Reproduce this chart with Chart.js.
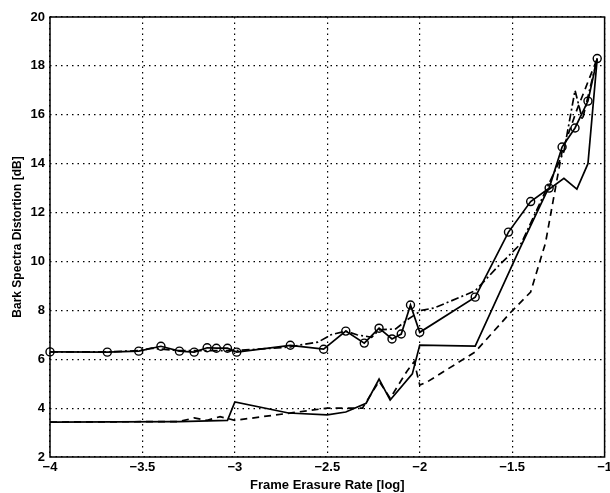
<!DOCTYPE html>
<html>
<head>
<meta charset="utf-8">
<script src="https://cdn.jsdelivr.net/npm/chart.js@4"></script>
<style>
  html, body { margin: 0; padding: 0; background: #fff; }
  #wrap { width: 610px; height: 493px; }
</style>
</head>
<body>
<div id="wrap"><canvas id="chart"></canvas></div>
<script>
// circles + solid line
const circX = [-4, -3.69, -3.52, -3.40, -3.30, -3.22, -3.15, -3.10, -3.04, -2.99, -2.70, -2.52,
  -2.40, -2.30, -2.22, -2.15, -2.10, -2.05, -2.00, -1.70, -1.52, -1.40, -1.30, -1.23, -1.16, -1.09, -1.04];
const circY = [6.30, 6.29, 6.33, 6.53, 6.33, 6.29, 6.47, 6.45, 6.45, 6.29, 6.57, 6.41,
  7.15, 6.66, 7.27, 6.83, 7.03, 8.22, 7.10, 8.54, 11.2, 12.45, 13.0, 14.68, 15.46, 16.56, 18.3];

// dash-dot
const dashDotX = [-4, -3.7, -3.52, -3.45, -3.3, -3.0, -2.7, -2.65, -2.55, -2.48, -2.40, -2.34, -2.26,
  -2.22, -2.13, -2.07, -1.99, -1.92, -1.70, -1.58, -1.45, -1.30, -1.22, -1.16, -1.12, -1.04];
const dashDotY = [6.3, 6.3, 6.35, 6.45, 6.35, 6.35, 6.5, 6.58, 6.7, 7.0, 7.15, 7.0, 6.9,
  7.2, 7.24, 7.6, 8.0, 8.1, 8.8, 9.77, 10.75, 13.2, 14.5, 17.0, 15.8, 18.3];

// plain solid
const solidX = [-4, -3.3, -3.04, -3.0, -2.71, -2.50, -2.40, -2.29, -2.22, -2.16, -2.04, -2.00,
  -1.70, -1.46, -1.31, -1.22, -1.15, -1.09, -1.04];
const solidY = [3.43, 3.45, 3.5, 4.25, 3.8, 3.72, 3.84, 4.2, 5.19, 4.33, 5.4, 6.58,
  6.54, 10.5, 12.9, 13.4, 12.96, 14.0, 18.3];

// dashed
const dashX = [-4, -3.3, -3.22, -3.15, -3.08, -3.0, -2.5, -2.31, -2.22, -2.16, -2.07, -2.03, -2.00,
  -1.96, -1.70, -1.51, -1.40, -1.32, -1.23, -1.15, -1.04];
const dashY = [3.43, 3.45, 3.6, 3.5, 3.65, 3.5, 4.0, 4.0, 5.1, 4.4, 5.5, 5.9, 4.94,
  5.07, 6.3, 7.9, 8.75, 10.75, 14.5, 16.2, 18.3];

const xTicks = [-4, -3.5, -3, -2.5, -2, -1.5, -1];
const yTicks = [2, 4, 6, 8, 10, 12, 14, 16, 18, 20];

function pts(xs, ys) {
  return xs.map((x, i) => ({ x: x, y: ys[i] }));
}

const fontFamily = "'Liberation Sans', Arial, Helvetica, sans-serif";

const framePlugin = {
  id: 'frame',
  afterDatasetsDraw(chart) {
    const { ctx, chartArea: a } = chart;
    ctx.save();
    ctx.strokeStyle = '#000';
    ctx.lineWidth = 1.5;
    ctx.strokeRect(a.left, a.top, a.right - a.left, a.bottom - a.top);
    ctx.restore();
  }
};

new Chart(document.getElementById('chart'), {
  type: 'scatter',
  plugins: [framePlugin],
  data: {
    datasets: [
      {
        data: pts(solidX, solidY),
        showLine: true,
        borderColor: '#000',
        borderWidth: 1.7,
        pointRadius: 0,
      },
      {
        data: pts(dashX, dashY),
        showLine: true,
        borderColor: '#000',
        borderWidth: 1.7,
        borderDash: [7, 5],
        pointRadius: 0,
      },
      {
        data: pts(dashDotX, dashDotY),
        showLine: true,
        borderColor: '#000',
        borderWidth: 1.7,
        borderDash: [8, 3, 2, 3],
        pointRadius: 0,
      },
      {
        data: pts(circX, circY),
        showLine: true,
        borderColor: '#000',
        borderWidth: 1.7,
        pointRadius: 4,
        pointBorderWidth: 1.4,
        pointBackgroundColor: 'rgba(0,0,0,0)',
        pointBorderColor: '#000',
        clip: false,
      },
    ],
  },
  options: {
    responsive: true,
    maintainAspectRatio: false,
    animation: false,
    layout: { padding: { top: 17, right: 3, left: 10, bottom: 0 } },
    plugins: {
      legend: { display: false },
      tooltip: { enabled: false },
    },
    scales: {
      x: {
        type: 'linear',
        min: -4,
        max: -1,
        afterBuildTicks: (s) => { s.ticks = xTicks.map(v => ({ value: v })); },
        afterFit: (s) => { s.height = 36; s.paddingRight = 0; s.paddingLeft = 0; },
        ticks: {
          color: '#000',
          padding: 3,
          font: { family: fontFamily, size: 13, weight: 'bold' },
          callback: (v) => String(v).replace('-', '\u2212'),
        },
        grid: { color: '#000', lineWidth: 1.2, drawTicks: false },
        border: { display: false, dash: [1.5, 4] },
        title: {
          display: true,
          text: 'Frame Erasure Rate [log]',
          color: '#000',
          padding: { top: 0, bottom: 0 },
          font: { family: fontFamily, size: 13, weight: 'bold' },
        },
      },
      y: {
        min: 2,
        max: 20,
        afterBuildTicks: (s) => { s.ticks = yTicks.map(v => ({ value: v })); },
        afterFit: (s) => { s.width = 40; },
        ticks: {
          color: '#000',
          padding: 5,
          font: { family: fontFamily, size: 13, weight: 'bold' },
        },
        grid: { color: '#000', lineWidth: 1.2, drawTicks: false },
        border: { display: false, dash: [1.5, 4] },
        title: {
          display: true,
          text: 'Bark Spectra Distortion [dB]',
          color: '#000',
          padding: { top: 0, bottom: 2 },
          font: { family: fontFamily, size: 12, weight: 'bold' },
        },
      },
    },
  },
});
</script>
</body>
</html>
